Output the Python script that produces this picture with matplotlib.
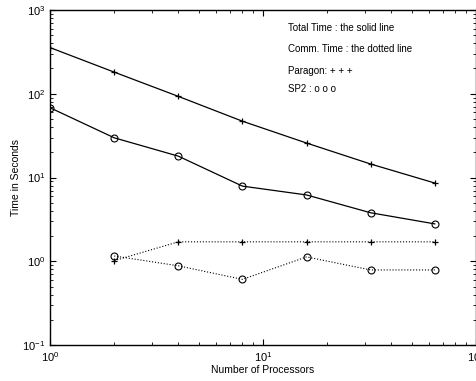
import matplotlib
matplotlib.use("Agg")
import matplotlib.pyplot as plt

plt.rcParams['font.family'] = ['Liberation Sans', 'DejaVu Sans']
plt.rcParams['mathtext.default'] = 'regular'

# processors
procs = [1, 2, 4, 8, 16, 32, 64]
procs_comm = [2, 4, 8, 16, 32, 64]

# total times (solid)
paragon_total = [355, 181, 93, 47, 25.8, 14.5, 8.6]
sp2_total = [68, 29.8, 18, 7.9, 6.2, 3.8, 2.8]

# communication times (dotted)
paragon_comm = [1.02, 1.71, 1.71, 1.71, 1.71, 1.71]
sp2_comm = [1.16, 0.885, 0.61, 1.13, 0.79, 0.79]

fig = plt.figure(figsize=(4.77, 3.81), dpi=100)
ax = fig.add_axes([0.105, 0.094, 0.893, 0.880])

ax.plot(procs, paragon_total, '-', color='k', lw=0.9, marker='+', ms=5, mew=0.9)
ax.plot(procs, sp2_total, '-', color='k', lw=0.9, marker='o', ms=5, mfc='none', mew=0.8)
ax.plot(procs_comm, paragon_comm, ':', color='k', lw=0.8, marker='+', ms=5, mew=0.9)
ax.plot(procs_comm, sp2_comm, ':', color='k', lw=0.8, marker='o', ms=5, mfc='none', mew=0.8)

ax.set_xscale('log')
ax.set_yscale('log')
ax.set_xlim(1, 100)
ax.set_ylim(0.1, 1000)

ax.tick_params(which='both', direction='in', top=True, right=True, labelsize=8)
ax.tick_params(which='major', length=4)
ax.tick_params(which='minor', length=2)
for s in ax.spines.values():
    s.set_linewidth(1.0)

ax.set_xlabel('Number of Processors', fontsize=7.5, labelpad=1)
ax.set_ylabel('Time in Seconds', fontsize=7.5, labelpad=1)

notes = ['Total Time : the solid line', 'Comm. Time : the dotted line',
         'Paragon: + + +', 'SP2 : o o o']
ys = [0.946, 0.884, 0.818, 0.764]
for t, y in zip(notes, ys):
    ax.text(0.559, y, t, transform=ax.transAxes, fontsize=7, va='center')

fig.savefig('out.png', dpi=100)
